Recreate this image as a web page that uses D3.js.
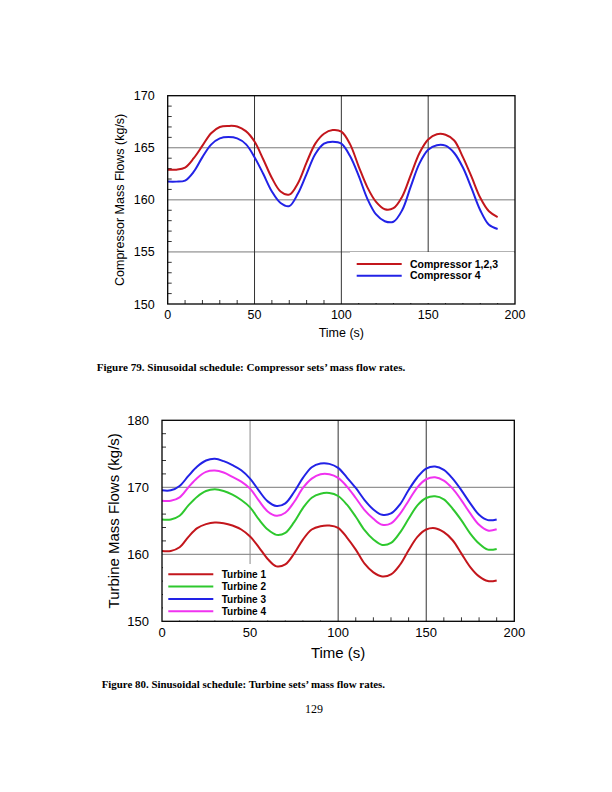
<!DOCTYPE html>
<html><head><meta charset="utf-8">
<script src="https://cdn.jsdelivr.net/npm/d3@7"></script>
<style>body{margin:0;background:#fff}svg{display:block}</style>
</head><body>
<script>
const time = [0,5,10,15,20,25,30,35,40,45,50,55,60,65,70,75,80,85,90,95,100,105,110,115,120,125,130,135,140,145,150,155,160,165,170,175,180,185,190];

const compressor123 = [162.9,162.9,163.1,164.0,165.2,166.4,167.0,167.1,167.05,166.6,165.6,163.9,162.1,160.8,160.5,161.6,163.6,165.4,166.35,166.7,166.55,165.35,163.2,161.2,159.8,159.1,159.2,160.3,162.4,164.5,165.8,166.3,166.25,165.7,164.1,162.2,160.2,158.9,158.35];
const compressor4 = [161.75,161.75,161.85,162.7,164.1,165.3,165.9,166.03,165.9,165.35,164.1,162.5,160.8,159.7,159.4,160.6,162.5,164.4,165.4,165.58,165.4,164.2,162.3,160.1,158.6,157.95,157.9,159.0,161.3,163.5,164.8,165.25,165.2,164.5,163.1,161.1,159.0,157.6,157.2];

const turbine1 = [160.5,160.5,161.05,162.6,163.9,164.5,164.75,164.65,164.3,163.7,162.65,161.05,159.3,158.2,158.5,160.1,162.2,163.7,164.2,164.3,163.95,162.5,160.7,158.6,157.3,156.7,157.0,158.4,160.6,162.6,163.7,163.9,163.3,162.1,160.1,158.1,156.7,156.0,156.1];
const turbine2 = [165.2,165.2,165.75,167.3,168.6,169.45,169.7,169.45,168.9,168.1,167.0,165.2,163.7,162.9,163.2,164.8,166.9,168.45,169.05,169.15,168.7,167.4,165.6,163.6,162.2,161.4,161.7,163.2,165.3,167.3,168.4,168.65,168.2,166.8,165.07,163.1,161.6,160.7,160.8];
const turbine3 = [169.55,169.55,170.2,171.7,173.1,174.0,174.25,173.9,173.3,172.55,171.3,169.5,167.9,167.2,167.6,169.3,171.4,173.0,173.55,173.5,172.9,171.45,169.9,168.1,166.7,165.9,166.1,167.4,169.6,171.5,172.8,173.1,172.6,171.3,169.55,167.6,165.9,165.1,165.2];
const turbine4 = [168.0,168.0,168.5,170.0,171.4,172.3,172.5,172.2,171.55,170.85,169.8,168.0,166.4,165.75,166.2,167.8,169.9,171.3,171.95,171.95,171.4,170.1,168.4,166.6,165.3,164.4,164.6,166.0,168.0,170.0,171.2,171.5,171.0,169.8,168.06,166.1,164.4,163.55,163.73];

const xTicks = [0,50,100,150,200];
const xMinor = [10,20,30,40,60,70,80,90,110,120,130,140,160,170,180,190];
const topYTicks = [150,155,160,165,170];
const topYMinor = [151,152,153,154,156,157,158,159,161,162,163,164,166,167,168,169];
const botYTicks = [150,160,170,180];
const botYMinor = [152,154,156,158,162,164,166,168,172,174,176,178];

const topSeries = [
  {name:"Compressor 1,2,3", values:compressor123, color:"#c3161c"},
  {name:"Compressor 4", values:compressor4, color:"#2222e6"}
];
const botSeries = [
  {name:"Turbine 1", values:turbine1, color:"#c3161c"},
  {name:"Turbine 2", values:turbine2, color:"#2ec82e"},
  {name:"Turbine 3", values:turbine3, color:"#2222e6"},
  {name:"Turbine 4", values:turbine4, color:"#f032f0"}
];

const svg = d3.select("body").append("svg").attr("width",612).attr("height",792);
const SANS = "Liberation Sans, Arial, sans-serif";
const SERIF = "Liberation Serif, Times New Roman, serif";

function drawChart(cfg){
  const x = d3.scaleLinear().domain([0,200]).range([cfg.left,cfg.right]);
  const y = d3.scaleLinear().domain(cfg.yDomain).range([cfg.bottom,cfg.top]);
  const g = svg.append("g");
  g.selectAll(".hg").data(cfg.yTicks.filter(v=>v>cfg.yDomain[0]&&v<cfg.yDomain[1])).enter().append("line")
    .attr("x1",cfg.left).attr("x2",cfg.right).attr("y1",d=>y(d)).attr("y2",d=>y(d))
    .attr("stroke","#7a7a7a").attr("stroke-width",1);
  g.selectAll(".vg").data(xTicks.filter(v=>v>0&&v<200)).enter().append("line")
    .attr("y1",cfg.top).attr("y2",cfg.bottom).attr("x1",d=>x(d)).attr("x2",d=>x(d))
    .attr("stroke",(d)=> (cfg.grayFirstV && d===50) ? "#8a8a8a" : "#333").attr("stroke-width",1);
  g.selectAll(".xm").data(xMinor).enter().append("line")
    .attr("x1",d=>x(d)).attr("x2",d=>x(d)).attr("y1",cfg.bottom).attr("y2",cfg.bottom-4)
    .attr("stroke","#000").attr("stroke-width",0.8);
  g.selectAll(".ym").data(cfg.yMinor).enter().append("line")
    .attr("y1",d=>y(d)).attr("y2",d=>y(d)).attr("x1",cfg.left).attr("x2",cfg.left+4)
    .attr("stroke","#000").attr("stroke-width",0.8);
  g.append("rect").attr("x",cfg.legBox[0]).attr("y",cfg.legBox[1]).attr("width",cfg.legBox[2]).attr("height",cfg.legBox[3]).attr("fill","#fff");
  const line = d3.line().x((d,i)=>x(time[i])).y(d=>y(d)).curve(d3.curveCatmullRom.alpha(0.5));
  cfg.series.forEach(s=>{
    g.append("path").attr("d",line(s.values)).attr("fill","none").attr("stroke",s.color).attr("stroke-width",2);
  });
  g.append("rect").attr("x",cfg.left).attr("y",cfg.top).attr("width",cfg.right-cfg.left).attr("height",cfg.bottom-cfg.top)
    .attr("fill","none").attr("stroke","#000").attr("stroke-width",1.3);
  g.selectAll(".xl").data(xTicks).enter().append("text")
    .attr("x",d=>x(d)).attr("y",cfg.bottom+cfg.xLabOff).attr("text-anchor","middle")
    .attr("font-family",SANS).attr("font-size",cfg.tickFs).text(d=>d);
  g.selectAll(".yl").data(cfg.yTicks).enter().append("text")
    .attr("x",cfg.left-cfg.yLabOff).attr("y",d=>y(d)).attr("dy","0.36em").attr("text-anchor","end")
    .attr("font-family",SANS).attr("font-size",cfg.tickFs).text(d=>d);
  g.append("text").attr("x",(cfg.left+cfg.right)/2).attr("y",cfg.xTitleY).attr("text-anchor","middle")
    .attr("font-family",SANS).attr("font-size",cfg.titleFs).text("Time (s)");
  g.append("text").attr("transform",`translate(${cfg.yTitleX},${(cfg.top+cfg.bottom)/2}) rotate(-90)`)
    .attr("text-anchor","middle").attr("font-family",SANS).attr("font-size",cfg.titleFs).text(cfg.yTitle);
  cfg.series.forEach((s,i)=>{
    const ly = cfg.leg.y + i*cfg.leg.dy;
    g.append("line").attr("x1",cfg.leg.x1).attr("x2",cfg.leg.x2).attr("y1",ly).attr("y2",ly)
      .attr("stroke",s.color).attr("stroke-width",2);
    g.append("text").attr("x",cfg.leg.tx).attr("y",ly).attr("dy","0.36em")
      .attr("font-family",SANS).attr("font-weight","bold").attr("font-size",cfg.leg.fs).text(s.name);
  });
}

drawChart({
  left:167.7, right:515, top:95.7, bottom:304, yDomain:[150,170],
  yTicks:topYTicks, yMinor:topYMinor, series:topSeries,
  tickFs:12.5, titleFs:12.5, xLabOff:14.5, yLabOff:13, xTitleY:336.5, yTitleX:124,
  yTitle:"Compressor Mass Flows (kg/s)",
  legBox:[350,252,164,51],
  leg:{x1:356.7, x2:401.7, y:264, dy:11.7, tx:410, fs:10.5}
});
drawChart({
  left:162, right:514.3, top:420.3, bottom:621.3, yDomain:[150,180],
  yTicks:botYTicks, yMinor:botYMinor, series:botSeries, grayFirstV:true,
  tickFs:13, titleFs:15, xLabOff:16, yLabOff:13, xTitleY:658, yTitleX:119,
  yTitle:"Turbine Mass Flows (kg/s)",
  legBox:[163,564,160,56.5],
  leg:{x1:168.3, x2:213.3, y:574.3, dy:12.3, tx:221.7, fs:10}
});

svg.append("text").attr("x",96.7).attr("y",371).attr("font-family",SERIF).attr("font-weight","bold").attr("font-size",11.1)
  .text("Figure 79. Sinusoidal schedule: Compressor sets\u2019 mass flow rates.");
svg.append("text").attr("x",101.7).attr("y",688).attr("font-family",SERIF).attr("font-weight","bold").attr("font-size",10.9)
  .text("Figure 80. Sinusoidal schedule: Turbine sets\u2019 mass flow rates.");
svg.append("text").attr("x",314).attr("y",713).attr("text-anchor","middle").attr("font-family",SERIF).attr("font-size",12)
  .text("129");
</script>
</body></html>
